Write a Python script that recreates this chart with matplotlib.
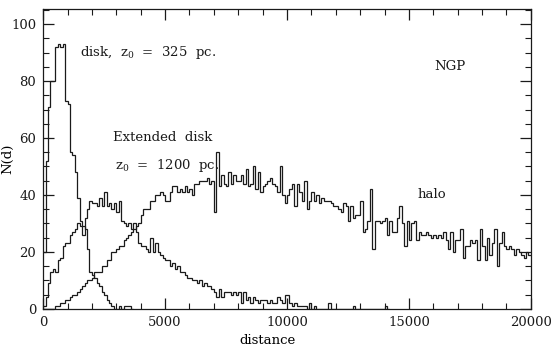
import numpy as np
import matplotlib
matplotlib.use("Agg")
import matplotlib.pyplot as plt
from matplotlib.ticker import MultipleLocator

plt.rcParams['font.family'] = 'DejaVu Serif'
plt.rcParams['mathtext.fontset'] = 'dejavuserif'

# star counts per 100 pc distance bin, towards the NGP
bin_width = 100

disk = [20, 52, 71, 80, 80, 92, 93, 92, 93, 73, 72, 55, 54, 48, 39, 31, 29, 28, 21, 13,
        12, 11, 9, 8, 6, 5, 3, 2, 1, 0, 0, 1, 0, 1, 1, 1, 0]

ext_disk = [1, 4, 9, 13, 14, 13, 17, 18, 22, 23, 23, 26, 27, 28, 30, 29, 26, 32, 35, 38,
            37, 37, 36, 39, 36, 41, 36, 37, 35, 37, 34, 38, 31, 30, 29, 30, 28, 30, 27, 23,
            22, 22, 21, 20, 25, 20, 23, 20, 19, 18, 17, 17, 15, 16, 14, 15, 13, 13, 12, 11,
            11, 10, 10, 9, 10, 8, 9, 8, 8, 7, 6, 4, 7, 4, 6, 6, 6, 5, 6, 5,
            6, 2, 6, 3, 4, 2, 4, 3, 2, 3, 3, 3, 2, 3, 2, 2, 4, 3, 2, 5,
            5, 2, 1, 2, 1, 1, 1, 1, 0, 2, 0, 1, 0, 0, 0, 0, 0, 2, 0, 0,
            0, 0, 0, 0, 0, 0, 0, 1, 0, 0, 0, 0, 0, 0, 0, 0, 0, 0, 0, 0,
            1, 0]

halo = [0, 0, 0, 0, 0, 1, 1, 2, 2, 3, 3, 4, 5, 5, 6, 7, 8, 9, 10, 10,
        11, 13, 13, 13, 15, 15, 17, 17, 20, 20, 21, 22, 22, 24, 25, 26, 27, 28, 29, 30,
        33, 35, 35, 35, 38, 38, 40, 40, 41, 40, 38, 38, 41, 43, 43, 41, 42, 41, 43, 41,
        42, 40, 44, 44, 45, 45, 45, 46, 44, 45, 34, 55, 43, 47, 44, 43, 48, 44, 47, 45,
        45, 47, 44, 49, 43, 44, 50, 42, 48, 41, 43, 44, 45, 46, 44, 43, 41, 50, 40, 37,
        40, 42, 44, 36, 44, 41, 38, 45, 35, 38, 41, 38, 40, 37, 39, 38, 38, 38, 37, 36,
        36, 35, 34, 37, 36, 31, 36, 32, 33, 33, 38, 27, 28, 31, 42, 21, 31, 31, 30, 31,
        32, 26, 31, 27, 27, 32, 36, 30, 22, 31, 24, 30, 31, 24, 27, 26, 26, 27, 26, 25,
        26, 25, 26, 25, 27, 24, 21, 27, 20, 24, 24, 28, 18, 22, 22, 24, 23, 24, 17, 28,
        22, 17, 25, 19, 23, 28, 15, 23, 27, 22, 21, 22, 21, 19, 21, 20, 19, 18, 20, 19]

fig = plt.figure(figsize=(5.6, 3.47), dpi=100)
ax = fig.add_axes([0.077, 0.110, 0.871, 0.864])

for counts in (disk, ext_disk, halo):
    edges = np.arange(len(counts) + 1) * bin_width
    ax.stairs(counts, edges, color='#1a1a1a', linewidth=0.9, baseline=None)

ax.set_xlim(0, 20000)
ax.set_ylim(0, 105.3)
ax.xaxis.set_major_locator(MultipleLocator(5000))
ax.xaxis.set_minor_locator(MultipleLocator(1000))
ax.yaxis.set_major_locator(MultipleLocator(20))
ax.yaxis.set_minor_locator(MultipleLocator(5))
ax.tick_params(which='both', direction='in', top=True, right=True, labelsize=9.5, colors='#1a1a1a')
ax.tick_params(which='major', length=8, width=0.9, pad=5)
ax.tick_params(which='minor', length=4, width=0.8)
for s in ax.spines.values():
    s.set_linewidth(0.9)
    s.set_color('#1a1a1a')

ax.set_xlabel('distance', fontsize=9.5)
ax.xaxis.set_label_coords(0.461, -0.085)
ax.set_ylabel('N(d)', fontsize=9.5)
ax.yaxis.set_label_coords(-0.06, 0.5)

txt = dict(fontsize=9.5, color='#1a1a1a', va='center')
ax.text(1516, 90.2, r'disk,  z$_0$  =  325  pc.', **txt)
ax.text(2870, 60.3, 'Extended  disk', **txt)
ax.text(2950, 50.5, r'z$_0$  =  1200  pc.', **txt)
ax.text(16025, 85, 'NGP', **txt)
ax.text(15370, 40, 'halo', **txt)

fig.savefig('out.png', dpi=100)
